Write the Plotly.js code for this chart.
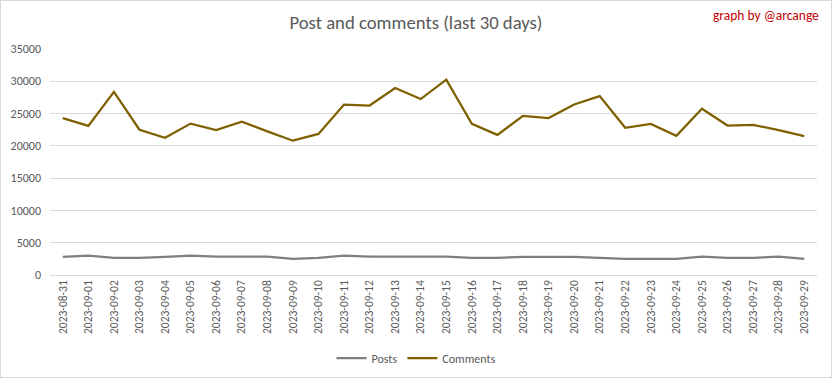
<!DOCTYPE html>
<html>
<head>
<meta charset="utf-8">
<script src="https://cdn.plot.ly/plotly-3.0.1.min.js"></script>
<style>
html,body{margin:0;padding:0;background:#fff;}
#chart{width:830px;height:376px;border:1px solid #d9d9d9;}
</style>
</head>
<body>
<div id="chart"></div>
<script>
const dates = ["2023-08-31","2023-09-01","2023-09-02","2023-09-03","2023-09-04","2023-09-05","2023-09-06","2023-09-07","2023-09-08","2023-09-09","2023-09-10","2023-09-11","2023-09-12","2023-09-13","2023-09-14","2023-09-15","2023-09-16","2023-09-17","2023-09-18","2023-09-19","2023-09-20","2023-09-21","2023-09-22","2023-09-23","2023-09-24","2023-09-25","2023-09-26","2023-09-27","2023-09-28","2023-09-29"];
const posts = [2800,3000,2650,2650,2800,3000,2850,2850,2850,2500,2650,3000,2850,2850,2850,2850,2650,2650,2800,2800,2800,2650,2500,2500,2500,2850,2650,2650,2850,2500];
const comments = [24300,23100,28350,22500,21250,23450,22450,23750,22250,20800,21850,26400,26250,28950,27250,30250,23400,21700,24650,24300,26400,27700,22800,23400,21550,25750,23150,23250,22450,21500];
const yTicks = [0,5000,10000,15000,20000,25000,30000,35000];

const font = "Carlito, Calibri, 'Open Sans', sans-serif";
const traces = [
  {x: dates, y: posts, name: "Posts", type: "scatter", mode: "lines",
   line: {color: "#7f7f7f", width: 2.25}},
  {x: dates, y: comments, name: "Comments", type: "scatter", mode: "lines",
   line: {color: "#7f6000", width: 2.25}}
];
const layout = {
  width: 830, height: 376,
  margin: {l: 49, r: 14, t: 48, b: 102},
  paper_bgcolor: "#fff", plot_bgcolor: "#fff",
  font: {family: font, color: "#595959", size: 11},
  title: {text: "Post and comments (last 30 days)", xref: "container", x: 0.5, xanchor: "center",
          yref: "container", y: 0.943, yanchor: "middle",
          font: {family: font, size: 18.7, color: "#595959"}},
  showlegend: true,
  legend: {orientation: "h", xref: "container", x: 0.5, xanchor: "center",
           yref: "container", y: 0.05, yanchor: "middle",
           font: {size: 12, color: "#595959"}, itemwidth: 30, traceorder: "normal"},
  xaxis: {type: "category", range: [-0.5, 29.5], tickangle: -90, showgrid: false, automargin: false,
          showline: false, zeroline: false, ticks: "", ticklabelstandoff: 2,
          tickfont: {size: 11.5, color: "#595959"}, fixedrange: true},
  yaxis: {range: [0, 35000], tickvals: yTicks, ticktext: yTicks.map(String), showgrid: true, automargin: false,
          gridcolor: "#d9d9d9", gridwidth: 1, zeroline: true, zerolinecolor: "#d9d9d9", zerolinewidth: 1,
          showline: false, ticks: "", ticklabelstandoff: 8,
          tickfont: {size: 12, color: "#595959"}, fixedrange: true},
  annotations: [{text: "graph by @arcange", xref: "paper", yref: "paper", x: 1.005, y: 1.15,
                 xanchor: "right", yanchor: "middle", showarrow: false,
                 font: {family: font, size: 13.5, color: "#c00000"}}]
};
Plotly.newPlot("chart", traces, layout, {displayModeBar: false, staticPlot: true});
</script>
</body>
</html>
